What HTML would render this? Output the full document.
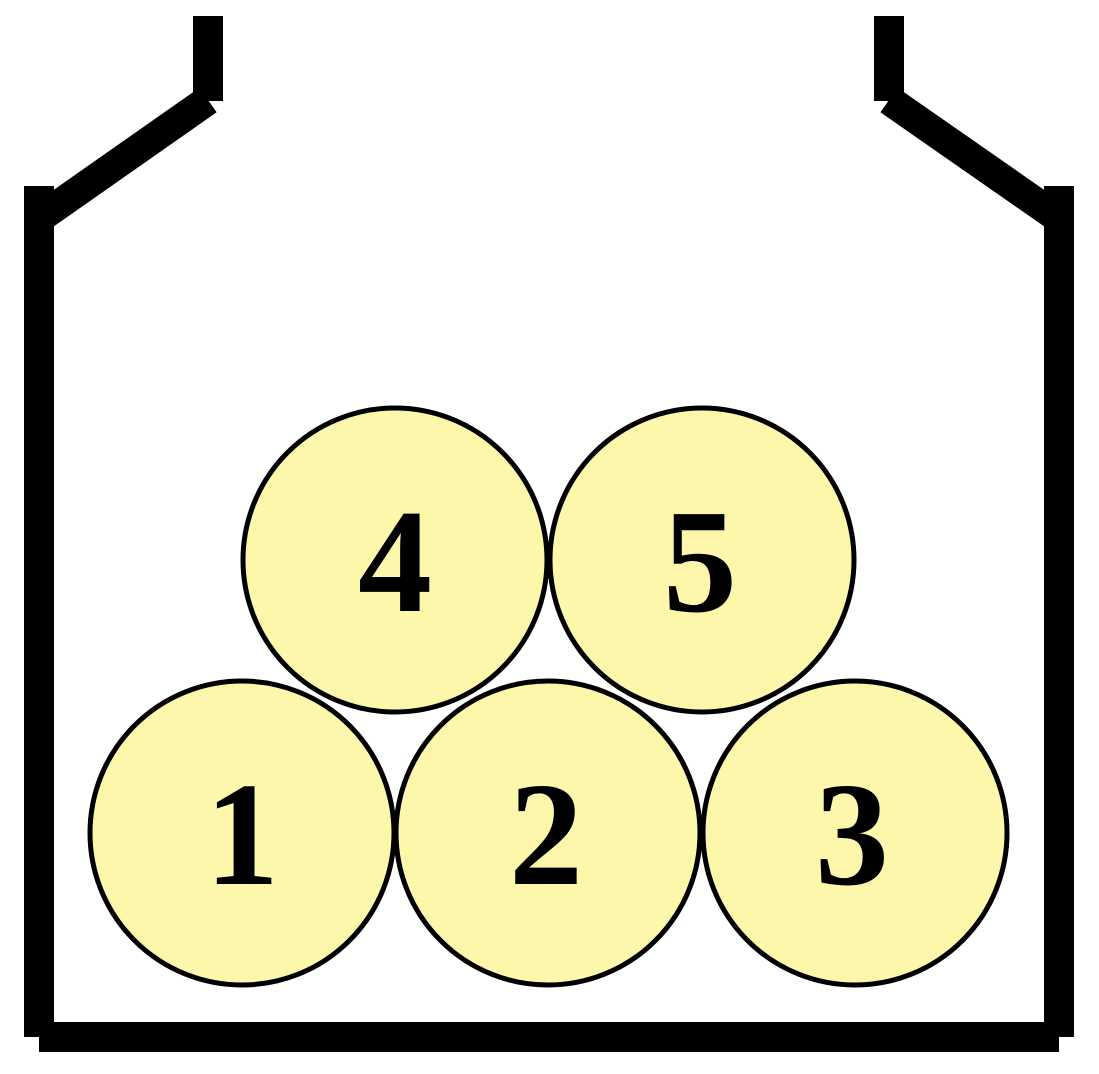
<!DOCTYPE html>
<html><head><meta charset="utf-8"><style>
html,body{margin:0;padding:0;background:#fff;}
svg{display:block;}
</style></head><body>
<svg width="1099" height="1074" viewBox="0 0 1099 1074">
 <g stroke="#000" stroke-width="30" fill="none" stroke-linecap="butt">
  <line x1="39" y1="186" x2="39" y2="1037"/>
  <line x1="1059" y1="186" x2="1059" y2="1037"/>
  <line x1="39" y1="1037" x2="1059" y2="1037"/>
  <line x1="44" y1="215" x2="208" y2="100"/>
  <line x1="1054" y1="215" x2="889" y2="100"/>
  <line x1="208" y1="16" x2="208" y2="101"/>
  <line x1="889" y1="16" x2="889" y2="101"/>
 </g>
 <g font-family="'Liberation Serif', serif" font-weight="bold" font-size="148" text-anchor="middle" fill="#000">
  <g><circle cx="242" cy="833" r="152" fill="#fdf7ab" stroke="#000" stroke-width="5"/><text x="242" y="884">1</text></g>
  <g><circle cx="548" cy="833" r="152" fill="#fdf7ab" stroke="#000" stroke-width="5"/><text x="546" y="884">2</text></g>
  <g><circle cx="855" cy="833" r="152" fill="#fdf7ab" stroke="#000" stroke-width="5"/><text x="852" y="884">3</text></g>
  <g><circle cx="395" cy="560" r="152" fill="#fdf7ab" stroke="#000" stroke-width="5"/><text x="395" y="611">4</text></g>
  <g><circle cx="702" cy="560" r="152" fill="#fdf7ab" stroke="#000" stroke-width="5"/><text x="700" y="611">5</text></g>
 </g>
</svg>
</body></html>
